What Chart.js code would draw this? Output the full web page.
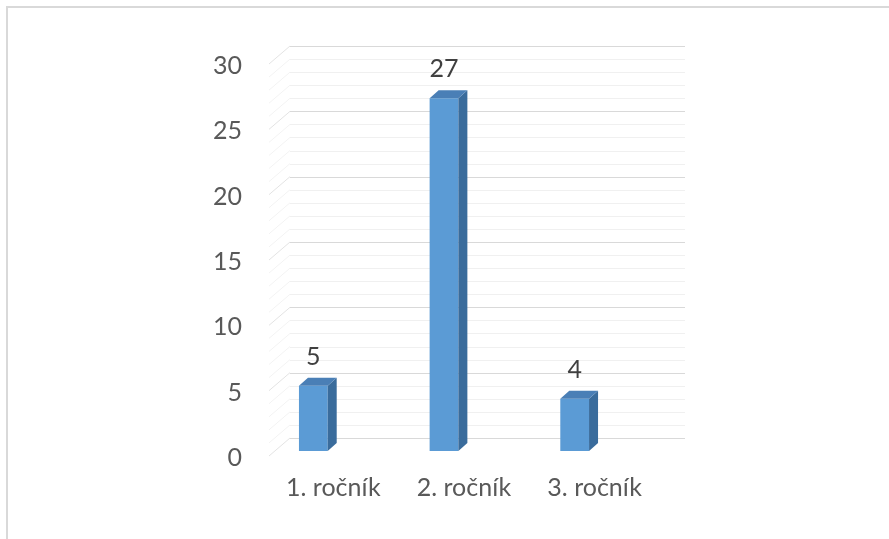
<!DOCTYPE html>
<html>
<head>
<meta charset="utf-8">
<script src="https://cdn.jsdelivr.net/npm/chart.js@4"></script>
<style>
html,body{margin:0;padding:0;background:#fff;}
#wrap{position:relative;width:889px;height:539px;}
</style>
</head>
<body>
<div id="wrap"><canvas id="chart" width="889" height="539"></canvas></div>
<script>
// data
const categories = ["1. ročník", "2. ročník", "3. ročník"];
const values = [5, 27, 4];
const yTicks = [0, 5, 10, 15, 20, 25, 30];

const frontColor = "#5b9bd5";
const sideColor = "#3a6c9c";
const topColor = "#4a7fb6";
const textColor = "#595959";
const fontSize = 25;

// back wall, side wall and frame
const wallPlugin = {
  id: "wall",
  beforeDatasetsDraw(chart){
    const ctx = chart.ctx;
    const y = chart.scales.y;
    const a = chart.chartArea;
    ctx.save();
    // frame
    ctx.strokeStyle = "#d9d9d9";
    ctx.lineWidth = 2;
    ctx.beginPath();
    ctx.moveTo(7, 539); ctx.lineTo(7, 7); ctx.lineTo(889, 7);
    ctx.stroke();
    ctx.lineWidth = 1;
    for(let v=0; v<=30; v++){
      const yf = y.getPixelForValue(v);
      const yb = yf - 13;
      ctx.strokeStyle = v % 5 === 0 ? "#d9d9d9" : "#f0f0f0";
      ctx.beginPath();
      ctx.moveTo(a.left + 42, Math.round(yb) + 0.5);
      ctx.lineTo(a.right + 45, Math.round(yb) + 0.5);
      ctx.stroke();
      ctx.strokeStyle = v % 5 === 0 ? "#e3e3e3" : "#f3f3f3";
      ctx.beginPath();
      ctx.moveTo(a.left + 21, yf + 5);
      ctx.lineTo(a.left + 42, yb);
      ctx.stroke();
    }
    ctx.restore();
  },
  afterDatasetsDraw(chart){
    const ctx = chart.ctx;
    const meta = chart.getDatasetMeta(0);
    const dx = 9, dy = -8;
    ctx.save();
    meta.data.forEach((bar, i) => {
      const l = bar.x - bar.width / 2, r = bar.x + bar.width / 2;
      const t = bar.y, b = bar.base;
      // side
      ctx.fillStyle = sideColor;
      ctx.beginPath();
      ctx.moveTo(r, t); ctx.lineTo(r + dx, t + dy); ctx.lineTo(r + dx, b + dy); ctx.lineTo(r, b);
      ctx.closePath(); ctx.fill();
      // top
      ctx.fillStyle = topColor;
      ctx.beginPath();
      ctx.moveTo(l, t); ctx.lineTo(l + dx, t + dy); ctx.lineTo(r + dx, t + dy); ctx.lineTo(r, t);
      ctx.closePath(); ctx.fill();
      // value label
      ctx.fillStyle = "#404040";
      ctx.font = fontSize + "px Lato";
      ctx.textAlign = "center";
      ctx.textBaseline = "middle";
      ctx.fillText(String(values[i]), bar.x, t - 29);
    });
    ctx.restore();
  }
};

new Chart(document.getElementById("chart"), {
  type: "bar",
  data: {
    labels: categories,
    datasets: [{
      data: values,
      backgroundColor: frontColor,
      borderWidth: 0,
      barPercentage: 0.22,
      categoryPercentage: 1
    }]
  },
  options: {
    responsive: false,
    animation: false,
    layout: { padding: { left: 188, right: 249, top: 59, bottom: 28 } },
    plugins: { legend: { display: false }, tooltip: { enabled: false } },
    scales: {
      x: {
        grid: { display: false, drawTicks: false },
        border: { display: false },
        ticks: { color: textColor, font: { family: "Lato", size: fontSize }, padding: 22, labelOffset: 20 },
        afterFit(s){ s.height = 60; }
      },
      y: {
        min: 0, max: 30,
        afterBuildTicks(s){ s.ticks = yTicks.map(v => ({ value: v })); },
        grid: { display: false, drawTicks: false },
        border: { display: false },
        ticks: { color: textColor, font: { family: "Lato", size: fontSize }, padding: 6, labelOffset: 7 },
        afterFit(s){ s.width = 60; }
      }
    }
  },
  plugins: [wallPlugin]
});
</script>
</body>
</html>
